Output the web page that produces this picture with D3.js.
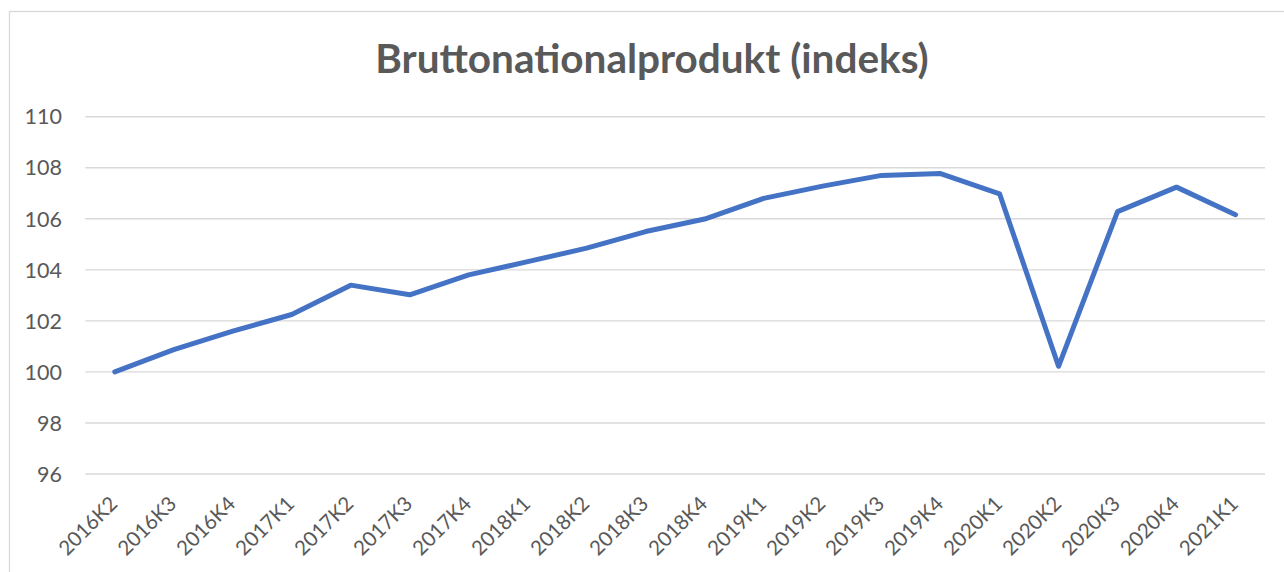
<!DOCTYPE html>
<html>
<head>
<meta charset="utf-8">
<script src="https://cdn.jsdelivr.net/npm/d3@7"></script>
<style>
  html, body { margin: 0; padding: 0; background: #fff; }
  text { font-family: Lato, "Open Sans", sans-serif; fill: #595959; }
</style>
</head>
<body>
<div id="chart"></div>
<script>
var title = "Bruttonationalprodukt (indeks)"

var quarters = ["2016K2", "2016K3", "2016K4", "2017K1", "2017K2", "2017K3", "2017K4",
    "2018K1", "2018K2", "2018K3", "2018K4", "2019K1", "2019K2", "2019K3", "2019K4",
    "2020K1", "2020K2", "2020K3", "2020K4", "2021K1"]

var bnp = [100.0, 100.87, 101.6, 102.25, 103.4, 103.02, 103.8,
    104.32, 104.85, 105.5, 105.99, 106.8, 107.28, 107.7, 107.77,
    106.98, 100.22, 106.28, 107.24, 106.16]

var yTicks = [96, 98, 100, 102, 104, 106, 108, 110]

var width = 1284,
    height = 572,
    margin = {top: 116.7, right: 19, bottom: 98, left: 85.3}

var svg = d3.select("#chart")
    .append("svg")
        .attr("width", width)
        .attr("height", height)

// chart border
svg.append("rect")
    .attr("x", 9.5)
    .attr("y", 11.5)
    .attr("width", width + 20)
    .attr("height", height + 20)
    .attr("fill", "#fff")
    .attr("stroke", "#d9d9d9")
    .attr("stroke-width", 1.3)

var x = d3.scalePoint()
    .domain(quarters)
    .range([margin.left, width - margin.right])
    .padding(0.5)

var y = d3.scaleLinear()
    .domain([96, 110])
    .range([height - margin.bottom, margin.top])

// gridlines
svg.append("g")
    .selectAll("line")
    .data(yTicks)
    .join("line")
        .attr("x1", margin.left)
        .attr("x2", width - margin.right)
        .attr("y1", d => y(d))
        .attr("y2", d => y(d))
        .attr("stroke", "#d9d9d9")
        .attr("stroke-width", 1.4)

// y labels
svg.append("g")
    .selectAll("text")
    .data(yTicks)
    .join("text")
        .attr("x", 62)
        .attr("y", d => y(d))
        .attr("dy", "0.36em")
        .attr("text-anchor", "end")
        .style("font-size", "21.5px")
        .text(d => d)

// x labels, rotated
svg.append("g")
    .selectAll("text")
    .data(quarters)
    .join("text")
        .attr("text-anchor", "end")
        .attr("transform", d => "translate(" + (x(d) + 4) + ",505) rotate(-45)")
        .style("font-size", "20.5px")
        .text(d => d)

var line = d3.line()
    .x((d, i) => x(quarters[i]))
    .y(d => y(d))

svg.append("path")
    .datum(bnp)
    .attr("fill", "none")
    .attr("stroke", "#4472c4")
    .attr("stroke-width", 5)
    .attr("stroke-linejoin", "round")
    .attr("stroke-linecap", "round")
    .attr("d", line)

svg.append("text")
    .attr("x", 652)
    .attr("y", 73)
    .attr("text-anchor", "middle")
    .style("font-size", "40.5px")
    .style("font-weight", "bold")
    .text(title)
</script>
</body>
</html>
